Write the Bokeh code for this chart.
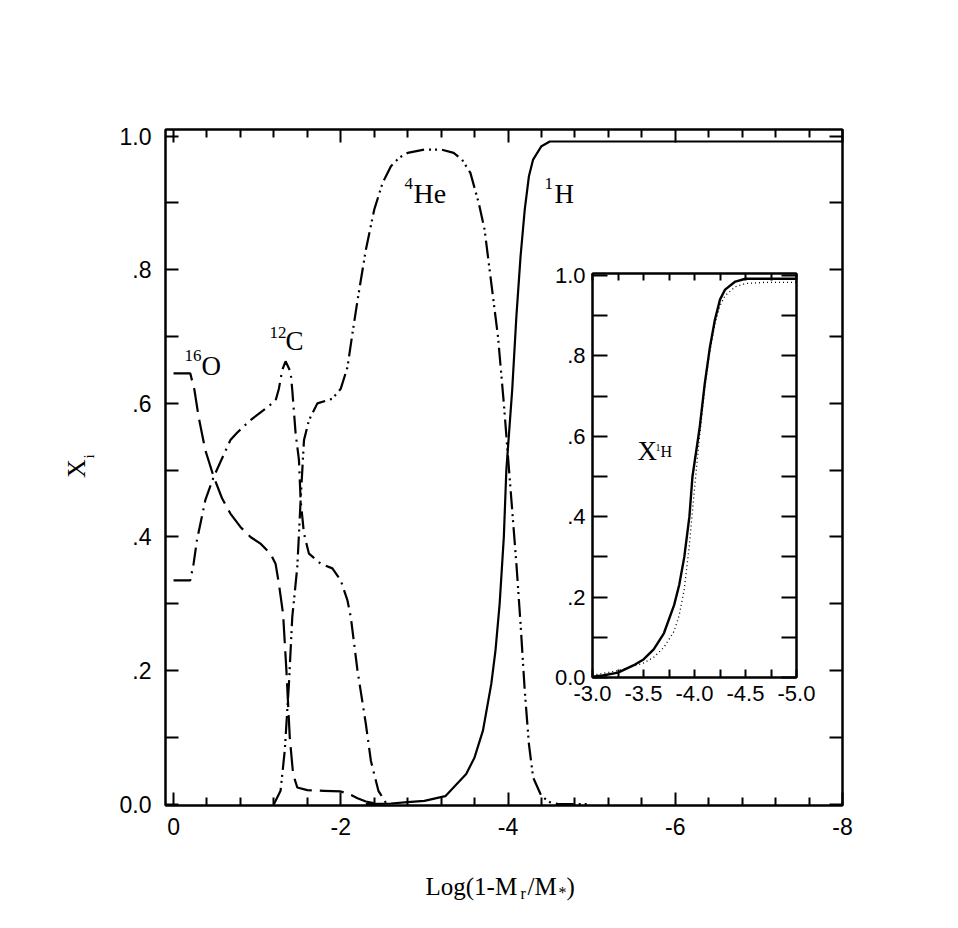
import math
from bokeh.plotting import figure
from bokeh.models import Range1d, LinearAxis, FixedTicker, CustomJSTickFormatter, Label
from bokeh.embed import file_html
from bokeh.resources import INLINE

# ---------------- data ----------------
o16_x = [0.0, -0.2, -0.25, -0.3, -0.38, -0.48, -0.58, -0.68, -0.8, -0.92, -1.04, -1.16, -1.22, -1.26, -1.31,
         -1.35, -1.39, -1.43, -1.48, -1.6, -1.8, -2.0, -2.1, -2.2, -2.3, -2.45]
o16_y = [0.645, 0.645, 0.62, 0.58, 0.53, 0.49, 0.458, 0.435, 0.415, 0.40, 0.39, 0.375, 0.36, 0.33, 0.285,
         0.2, 0.1, 0.045, 0.025, 0.021, 0.02, 0.019, 0.015, 0.009, 0.004, 0.0]

c12_x = [0.0, -0.2, -0.24, -0.28, -0.38, -0.48, -0.68, -0.76, -0.92, -1.12, -1.22, -1.26, -1.3, -1.34,
         -1.4, -1.42, -1.46, -1.5, -1.52, -1.56, -1.62, -1.76, -1.9, -2.0, -2.08, -2.12, -2.2, -2.3,
         -2.36, -2.45, -2.55]
c12_y = [0.335, 0.335, 0.36, 0.395, 0.455, 0.49, 0.545, 0.556, 0.575, 0.594, 0.604, 0.622, 0.65, 0.663,
         0.647, 0.62, 0.555, 0.515, 0.455, 0.405, 0.375, 0.36, 0.353, 0.335, 0.305, 0.28, 0.2, 0.12,
         0.065, 0.02, 0.0]

he4_x = [-1.2, -1.28, -1.33, -1.38, -1.42, -1.48, -1.52, -1.56, -1.62, -1.72, -1.9, -2.0, -2.08, -2.14,
         -2.2, -2.3, -2.4, -2.5, -2.6, -2.7, -2.8, -3.0, -3.2, -3.35, -3.45, -3.55, -3.65, -3.72, -3.8,
         -3.88, -3.95, -4.0, -4.05, -4.1, -4.15, -4.2, -4.25, -4.3, -4.4, -4.5, -4.6, -5.0]
he4_y = [0.0, 0.02, 0.08, 0.18, 0.28, 0.355, 0.455, 0.545, 0.575, 0.6, 0.607, 0.622, 0.654, 0.705,
         0.754, 0.83, 0.89, 0.93, 0.955, 0.968, 0.975, 0.98, 0.98, 0.975, 0.965, 0.945, 0.9, 0.86, 0.78,
         0.7, 0.6, 0.52, 0.44, 0.36, 0.27, 0.17, 0.09, 0.04, 0.012, 0.003, 0.0, 0.0]

h1_x = [-2.3, -2.6, -2.8, -3.0, -3.25, -3.5, -3.6, -3.7, -3.8, -3.85, -3.9, -3.95, -3.98, -4.05, -4.1,
        -4.15, -4.2, -4.25, -4.3, -4.4, -4.5, -5.0, -8.0]
h1_y = [0.0, 0.001, 0.003, 0.005, 0.012, 0.045, 0.07, 0.11, 0.18, 0.23, 0.3, 0.4, 0.5, 0.62, 0.73,
        0.82, 0.89, 0.94, 0.965, 0.985, 0.992, 0.992, 0.992]

# inset: 1H profile, two models
ins_solid_x = [-3.0, -3.1, -3.25, -3.4, -3.5, -3.6, -3.7, -3.8, -3.85, -3.9, -3.95, -3.98, -4.05, -4.1,
               -4.15, -4.2, -4.25, -4.3, -4.4, -4.5, -5.0]
ins_solid_y = [0.002, 0.005, 0.012, 0.03, 0.045, 0.07, 0.11, 0.18, 0.23, 0.3, 0.4, 0.5, 0.62, 0.73,
               0.82, 0.89, 0.94, 0.965, 0.985, 0.992, 0.992]
ins_dot_x = [-3.0, -3.1, -3.25, -3.4, -3.5, -3.6, -3.7, -3.8, -3.85, -3.9, -3.95, -4.0, -4.05, -4.1,
             -4.15, -4.2, -4.25, -4.3, -4.4, -4.5, -4.7, -5.0]
ins_dot_y = [0.006, 0.01, 0.017, 0.028, 0.036, 0.05, 0.075, 0.115, 0.155, 0.22, 0.33, 0.47, 0.6, 0.72,
             0.81, 0.88, 0.925, 0.95, 0.972, 0.98, 0.983, 0.983]

x_major = [0, -2, -4, -6, -8]
x_minor = [-0.4, -0.8, -1.2, -1.6, -2.4, -2.8, -3.2, -3.6, -4.4, -4.8, -5.2, -5.6, -6.4, -6.8, -7.2, -7.6]
y_major = [0.0, 0.2, 0.4, 0.6, 0.8, 1.0]
y_minor = [0.1, 0.3, 0.5, 0.7, 0.9]
ix_major = [-3.0, -3.5, -4.0, -4.5, -5.0]
ix_minor = [-3.25, -3.75, -4.25, -4.75]

SANS = "Liberation Sans"
SERIF = "Liberation Serif"

W, H = 940, 910
# ---------------- main figure ----------------
X0, X1 = 0.096, -8.0
Y0, Y1 = -0.002, 1.01
FL, FR, FT, FB = 165, 842, 129, 805   # frame in page pixels

p = figure(width=W, height=H, x_range=Range1d(X0, X1), y_range=Range1d(Y0, Y1),
           output_backend="svg", toolbar_location=None,
           min_border_left=FL, min_border_right=W - FR,
           min_border_top=FT, min_border_bottom=H - FB)
p.grid.visible = False
p.outline_line_color = "black"
p.outline_line_width = 2

yfmt = CustomJSTickFormatter(code="""
if (Math.abs(tick) < 1e-9) return '0.0';
if (Math.abs(tick - 1) < 1e-9) return '1.0';
return tick.toFixed(1).replace('0.', '.');
""")
xfmt = CustomJSTickFormatter(code="return Math.abs(tick) < 1e-9 ? '0' : tick.toFixed(0);")
blank = CustomJSTickFormatter(code="return '';")

def style_axis(ax, ticker, fmt, major_in, minor_in, fs, standoff):
    ax.ticker = ticker
    ax.formatter = fmt
    ax.axis_line_color = "black"
    ax.axis_line_width = 2
    ax.major_tick_in = major_in
    ax.major_tick_out = 0
    ax.minor_tick_in = minor_in
    ax.minor_tick_out = 0
    ax.major_tick_line_width = 2
    ax.minor_tick_line_width = 2
    ax.major_tick_line_color = "black"
    ax.minor_tick_line_color = "black"
    ax.major_label_text_font = SANS
    ax.major_label_text_font_size = fs
    ax.major_label_text_color = "black"
    ax.major_label_standoff = standoff
    ax.axis_label = None

style_axis(p.xaxis[0], FixedTicker(ticks=x_major, minor_ticks=x_minor), xfmt, 13, 8, "23px", 12)
style_axis(p.yaxis[0], FixedTicker(ticks=y_major, minor_ticks=y_minor), yfmt, 13, 13, "23px", 14)
ax_top = LinearAxis()
style_axis(ax_top, FixedTicker(ticks=x_major, minor_ticks=x_minor), blank, 13, 8, "1px", 0)
p.add_layout(ax_top, "above")
ax_right = LinearAxis()
style_axis(ax_right, FixedTicker(ticks=y_major, minor_ticks=y_minor), blank, 13, 13, "1px", 0)
p.add_layout(ax_right, "right")

p.line(h1_x, h1_y, line_color="black", line_width=2.2)
p.line(o16_x, o16_y, line_color="black", line_width=2.2, line_dash="24 8")
p.line(c12_x, c12_y, line_color="black", line_width=2.2, line_dash="18 6 2 6")
p.line(he4_x, he4_y, line_color="black", line_width=2.2, line_dash="18 5 2 4 2 5")

def lab(fig, txt, x, y, size, font=SERIF, align="left", baseline="alphabetic", angle=0.0):
    fig.add_layout(Label(x=x, y=y, text=txt, text_font=font, text_font_size=size,
                         text_align=align, text_baseline=baseline, angle=angle,
                         text_color="black"))

# ---------------- inset (separate root, absolutely placed) ----------------
IL, IR, IT, IB = 592, 796, 273, 677
BL, BR, BT, BB = 50, 28, 16, 40
IY1 = 1.005
IW, IH = BL + (IR - IL) + BR, BT + (IB - IT) + BB
ins = figure(width=IW, height=IH,
             x_range=Range1d(-3.0, -5.0), y_range=Range1d(0.0, IY1),
             output_backend="svg", toolbar_location=None,
             min_border_left=BL, min_border_right=BR, min_border_top=BT, min_border_bottom=BB,
             background_fill_alpha=0, border_fill_alpha=0)
ins.grid.visible = False
ins.outline_line_color = "black"
ins.outline_line_width = 2
ixfmt = CustomJSTickFormatter(code="return tick.toFixed(1);")
style_axis(ins.xaxis[0], FixedTicker(ticks=ix_major, minor_ticks=ix_minor), ixfmt, 8, 8, "22px", 8)
style_axis(ins.yaxis[0], FixedTicker(ticks=y_major, minor_ticks=y_minor), yfmt, 15, 15, "22px", 7)
iax_top = LinearAxis()
style_axis(iax_top, FixedTicker(ticks=ix_major, minor_ticks=ix_minor), blank, 7, 7, "1px", 0)
ins.add_layout(iax_top, "above")
iax_right = LinearAxis()
style_axis(iax_right, FixedTicker(ticks=y_major, minor_ticks=y_minor), blank, 15, 15, "1px", 0)
ins.add_layout(iax_right, "right")

ins.line(ins_dot_x, ins_dot_y, line_color="black", line_width=1.3, line_dash="1 3")
ins.line(ins_solid_x, ins_solid_y, line_color="black", line_width=2.4)

ins.styles = {"position": "absolute", "left": f"{IL - BL}px", "top": f"{IT - BT}px"}

# ---------------- text overlay (page-pixel coordinates) ----------------
ann = figure(width=W, height=H, x_range=Range1d(0, W), y_range=Range1d(H, 0),
             output_backend="svg", toolbar_location=None,
             min_border=0, min_border_left=0, min_border_right=0, min_border_top=0, min_border_bottom=0,
             x_axis_location=None, y_axis_location=None,
             background_fill_alpha=0, border_fill_alpha=0, outline_line_color=None)
ann.grid.visible = False
ann.styles = {"position": "absolute", "left": "0px", "top": "0px", "pointer-events": "none"}

# species labels
lab(ann, "16", 184, 355, "17px")
lab(ann, "O", 201, 365, "27px")
lab(ann, "12", 269, 332, "17px")
lab(ann, "C", 285, 340, "27px")
lab(ann, "4", 404, 183, "17px")
lab(ann, "He", 413, 193, "28px")
lab(ann, "1", 544, 183, "17px")
lab(ann, "H", 554, 193, "27px")
# axis titles
lab(ann, "Log(1-M", 425, 886, "25px")
lab(ann, "r", 520, 893, "16px")
lab(ann, "/M", 527, 886, "25px")
lab(ann, "*", 558, 892, "16px")
lab(ann, ")", 566, 886, "25px")
lab(ann, "X", 76, 468, "26px", align="center", baseline="middle", angle=math.pi / 2)
lab(ann, "i", 88, 456, "15px", align="center", baseline="middle", angle=math.pi / 2)
# inset label
lab(ann, "X", 637, 450, "27px")
lab(ann, "1", 655, 447, "10px")
lab(ann, "H", 660, 451, "16px")

open("out.html", "w").write(file_html([p, ins, ann], INLINE))
